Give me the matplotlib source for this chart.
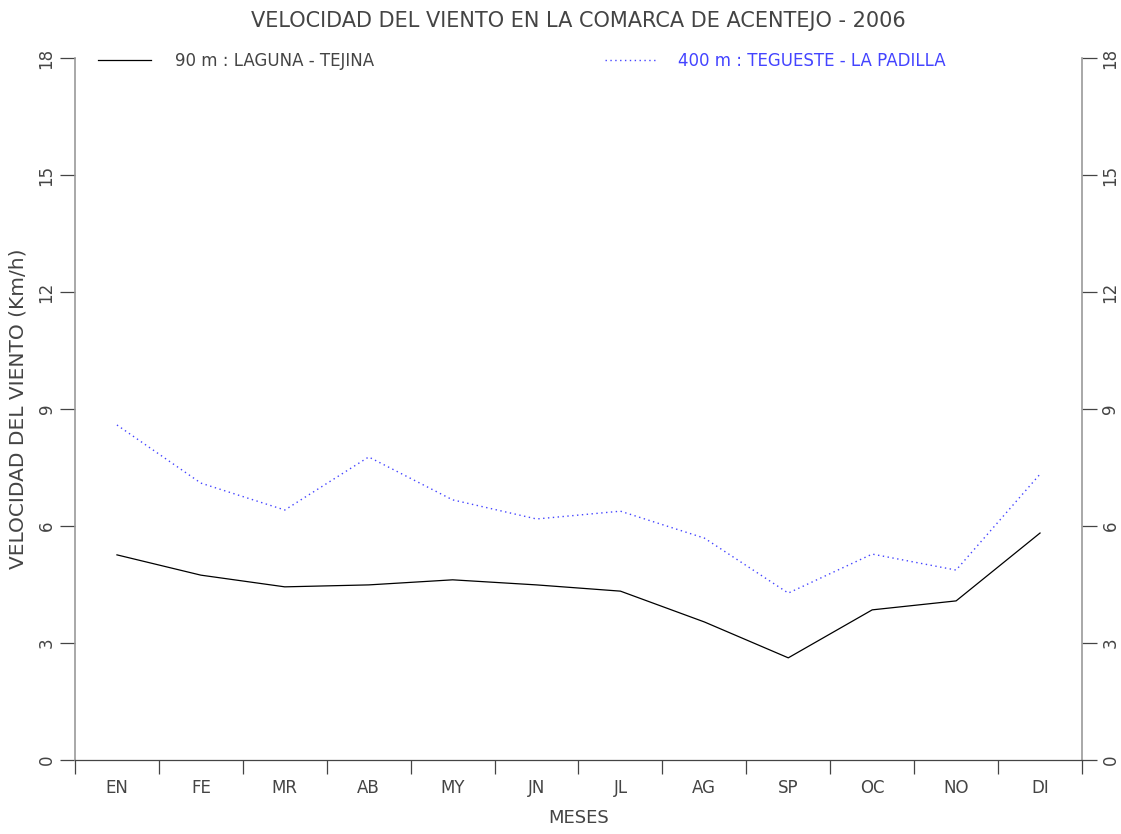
import matplotlib.pyplot as plt
import numpy as np

meses = ["EN", "FE", "MR", "AB", "MY", "JN", "JL", "AG", "SP", "OC", "NO", "DI"]
laguna_tejina = [5.26, 4.74, 4.44, 4.49, 4.62, 4.49, 4.33, 3.54, 2.62, 3.85, 4.08, 5.82]
tegueste_padilla = [8.59, 7.10, 6.41, 7.77, 6.67, 6.18, 6.38, 5.69, 4.28, 5.28, 4.87, 7.33]
yticks = [0, 3, 6, 9, 12, 15, 18]

plt.rcParams['font.family'] = ['DejaVu Sans']
txt = '#444444'

fig = plt.figure(figsize=(11.21, 8.34), dpi=100)
ax = fig.add_axes([0.0669, 0.0887, 0.8983, 0.8418])

x = np.arange(1, len(meses) + 1)
l1, = ax.plot(x, laguna_tejina, color='black', lw=0.9)
l2, = ax.plot(x, tegueste_padilla, color='#4444ff', lw=1.0, linestyle=(0, (1, 2.5)))

ax.set_xlim(0.5, 12.5)
ax.set_ylim(0, 18)

# category labels centred, ticks at the boundaries
ax.set_xticks(np.arange(0.5, 13, 1))
ax.set_xticklabels([])
ax.set_xticks(x, minor=True)
ax.set_xticklabels(meses, minor=True, fontsize=12, color=txt)
ax.tick_params(axis='x', which='major', direction='out', length=10, width=0.9, color='#444444')
ax.tick_params(axis='x', which='minor', length=0, pad=14)

ax.set_yticks(yticks)
ax.set_yticklabels([str(v) for v in yticks], fontsize=12, color=txt)
ax.tick_params(axis='y', direction='out', length=11, width=0.9, color='#444444',
               right=True, labelright=True, pad=3)
for t in ax.yaxis.get_major_ticks():
    t.label1.set_rotation(90)
    t.label1.set_va('center')
    t.label2.set_rotation(90)
    t.label2.set_va('center')

ax.spines['top'].set_visible(False)
for s in ['left', 'right']:
    ax.spines[s].set_color('#999999')
    ax.spines[s].set_linewidth(1.2)
ax.spines['bottom'].set_color('#444444')
ax.spines['bottom'].set_linewidth(0.9)

ax.set_xlabel("MESES", fontsize=13, color=txt, labelpad=8)
ax.set_ylabel("VELOCIDAD DEL VIENTO (Km/h)", fontsize=14.5, color=txt, labelpad=7)
ax.set_title("VELOCIDAD DEL VIENTO EN LA COMARCA DE ACENTEJO - 2006",
             fontsize=15, color=txt, pad=22)

leg1 = ax.legend([l1], ["90 m : LAGUNA - TEJINA"], loc='center left',
                 bbox_to_anchor=(0.008, 0.996), frameon=False, handlelength=3.2,
                 handletextpad=1.4, fontsize=12, labelcolor=txt)
ax.add_artist(leg1)
ax.legend([l2], ["400 m : TEGUESTE - LA PADILLA"], loc='center left',
          bbox_to_anchor=(0.511, 0.996), frameon=False, handlelength=3.0,
          handletextpad=1.4, fontsize=12, labelcolor='#4444ff')

fig.savefig("out.png", dpi=100)
